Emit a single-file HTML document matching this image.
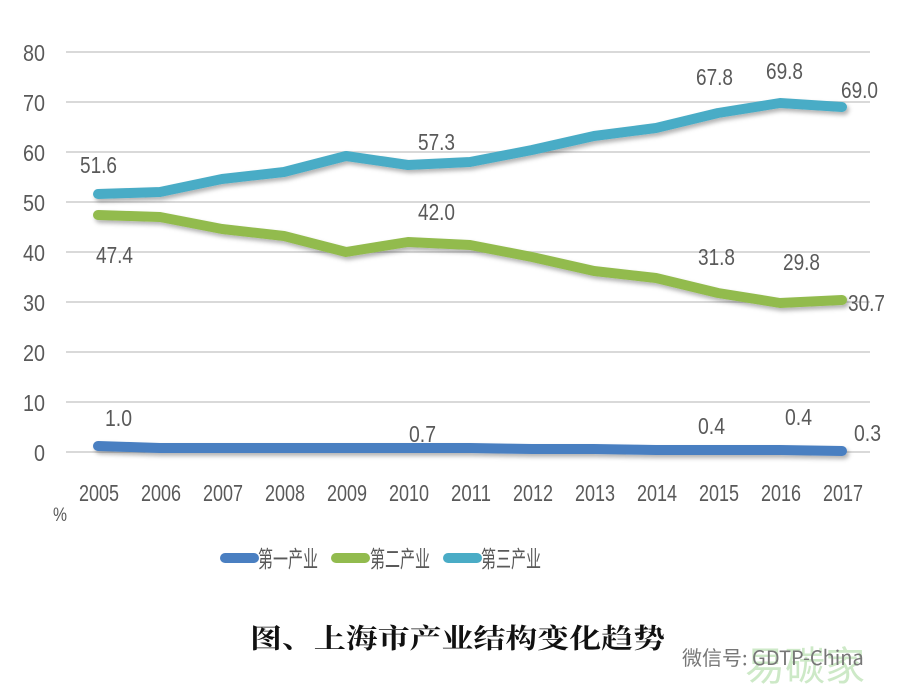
<!DOCTYPE html>
<html><head><meta charset="utf-8"><style>
html,body{margin:0;padding:0;background:#fff;}
svg{display:block;}
text{font-family:"Liberation Sans Narrow","Liberation Sans","Noto Sans CJK SC",sans-serif;fill:#595959;}
</style></head><body>
<svg width="912" height="697" viewBox="0 0 912 697" xmlns="http://www.w3.org/2000/svg">
<defs>
<filter id="sh" x="-5%" y="-50%" width="110%" height="200%">
<feDropShadow dx="2" dy="3" stdDeviation="2" flood-color="#000" flood-opacity="0.3"/>
</filter>
</defs>
<g stroke="#d9d9d9" stroke-width="2">
<line x1="66" x2="870" y1="52" y2="52"/><line x1="66" x2="870" y1="102" y2="102"/>
<line x1="66" x2="870" y1="152" y2="152"/><line x1="66" x2="870" y1="202" y2="202"/>
<line x1="66" x2="870" y1="252" y2="252"/><line x1="66" x2="870" y1="302" y2="302"/>
<line x1="66" x2="870" y1="352" y2="352"/><line x1="66" x2="870" y1="402" y2="402"/>
<line x1="66" x2="870" y1="452" y2="452"/>
</g>
<g font-size="23" text-anchor="end">
<text x="45" y="61" textLength="22" lengthAdjust="spacingAndGlyphs">80</text>
<text x="45" y="111" textLength="22" lengthAdjust="spacingAndGlyphs">70</text>
<text x="45" y="161" textLength="22" lengthAdjust="spacingAndGlyphs">60</text>
<text x="45" y="211" textLength="22" lengthAdjust="spacingAndGlyphs">50</text>
<text x="45" y="261" textLength="22" lengthAdjust="spacingAndGlyphs">40</text>
<text x="45" y="311" textLength="22" lengthAdjust="spacingAndGlyphs">30</text>
<text x="45" y="361" textLength="22" lengthAdjust="spacingAndGlyphs">20</text>
<text x="45" y="411" textLength="22" lengthAdjust="spacingAndGlyphs">10</text>
<text x="45" y="461" textLength="11" lengthAdjust="spacingAndGlyphs">0</text>
</g>
<g font-size="23">
<text x="79" y="501" textLength="40" lengthAdjust="spacingAndGlyphs">2005</text>
<text x="141" y="501" textLength="40" lengthAdjust="spacingAndGlyphs">2006</text>
<text x="203" y="501" textLength="40" lengthAdjust="spacingAndGlyphs">2007</text>
<text x="265" y="501" textLength="40" lengthAdjust="spacingAndGlyphs">2008</text>
<text x="327" y="501" textLength="40" lengthAdjust="spacingAndGlyphs">2009</text>
<text x="389" y="501" textLength="40" lengthAdjust="spacingAndGlyphs">2010</text>
<text x="451" y="501" textLength="40" lengthAdjust="spacingAndGlyphs">2011</text>
<text x="513" y="501" textLength="40" lengthAdjust="spacingAndGlyphs">2012</text>
<text x="575" y="501" textLength="40" lengthAdjust="spacingAndGlyphs">2013</text>
<text x="637" y="501" textLength="40" lengthAdjust="spacingAndGlyphs">2014</text>
<text x="699" y="501" textLength="40" lengthAdjust="spacingAndGlyphs">2015</text>
<text x="761" y="501" textLength="40" lengthAdjust="spacingAndGlyphs">2016</text>
<text x="823" y="501" textLength="40" lengthAdjust="spacingAndGlyphs">2017</text>
<text x="53" y="521" font-size="19" textLength="14" lengthAdjust="spacingAndGlyphs">%</text>
</g>
<g fill="none" stroke-width="10" stroke-linecap="round" stroke-linejoin="round" filter="url(#sh)">
<polyline stroke="#4aacc6" points="98,194 160,192 222,179 284,172 346,156 408,165 470,162 532,150 594,136 656,128 718,113 780,103 842,107"/>
<polyline stroke="#92bb4e" points="98,215 160,217 222,229 284,236 346,252 408,242 470,245 532,257 594,271 656,278 718,293 780,303 842,300"/>
<polyline stroke="#4a7fc1" points="98,446 160,448 222,448 284,448 346,448 408,448 470,448 532,449 594,449 656,450 718,450 780,450 842,451"/>
</g>
<g font-size="23">
<text x="80" y="173" textLength="37" lengthAdjust="spacingAndGlyphs">51.6</text>
<text x="418" y="150" textLength="37" lengthAdjust="spacingAndGlyphs">57.3</text>
<text x="696" y="85" textLength="37" lengthAdjust="spacingAndGlyphs">67.8</text>
<text x="766" y="79" textLength="37" lengthAdjust="spacingAndGlyphs">69.8</text>
<text x="841" y="98" textLength="37" lengthAdjust="spacingAndGlyphs">69.0</text>
<text x="418" y="220" textLength="37" lengthAdjust="spacingAndGlyphs">42.0</text>
<text x="96" y="263" textLength="37" lengthAdjust="spacingAndGlyphs">47.4</text>
<text x="698" y="265" textLength="37" lengthAdjust="spacingAndGlyphs">31.8</text>
<text x="783" y="270" textLength="37" lengthAdjust="spacingAndGlyphs">29.8</text>
<text x="848" y="311" textLength="37" lengthAdjust="spacingAndGlyphs">30.7</text>
<text x="105" y="426" textLength="27" lengthAdjust="spacingAndGlyphs">1.0</text>
<text x="409" y="442" textLength="27" lengthAdjust="spacingAndGlyphs">0.7</text>
<text x="698" y="434" textLength="27" lengthAdjust="spacingAndGlyphs">0.4</text>
<text x="785" y="425" textLength="27" lengthAdjust="spacingAndGlyphs">0.4</text>
<text x="854" y="441" textLength="27" lengthAdjust="spacingAndGlyphs">0.3</text>
</g>
<g stroke-width="10" stroke-linecap="round">
<line x1="225" x2="254" y1="558" y2="558" stroke="#4a7fc1"/>
<line x1="336" x2="365" y1="558" y2="558" stroke="#92bb4e"/>
<line x1="448" x2="477" y1="558" y2="558" stroke="#4aacc6"/>
</g>
<g font-size="23">
<text x="258" y="567" textLength="60" lengthAdjust="spacingAndGlyphs">第一产业</text>
<text x="370" y="567" textLength="60" lengthAdjust="spacingAndGlyphs">第二产业</text>
<text x="481" y="567" textLength="60" lengthAdjust="spacingAndGlyphs">第三产业</text>
</g>
<text x="250" y="648" font-size="27" font-weight="bold" style="fill:#111;font-family:'Noto Serif CJK SC','Noto Sans CJK SC',serif" textLength="415" lengthAdjust="spacingAndGlyphs">图、上海市产业结构变化趋势</text>
<text x="745" y="680" font-size="40" style="fill:#b8e0b0;font-family:'Noto Sans CJK SC',sans-serif" opacity="0.7">易碳家</text>
<text x="682" y="665" font-size="20" style="fill:#777;font-family:'Noto Sans CJK SC',sans-serif">微信号: GDTP-China</text>
</svg>
</body></html>
